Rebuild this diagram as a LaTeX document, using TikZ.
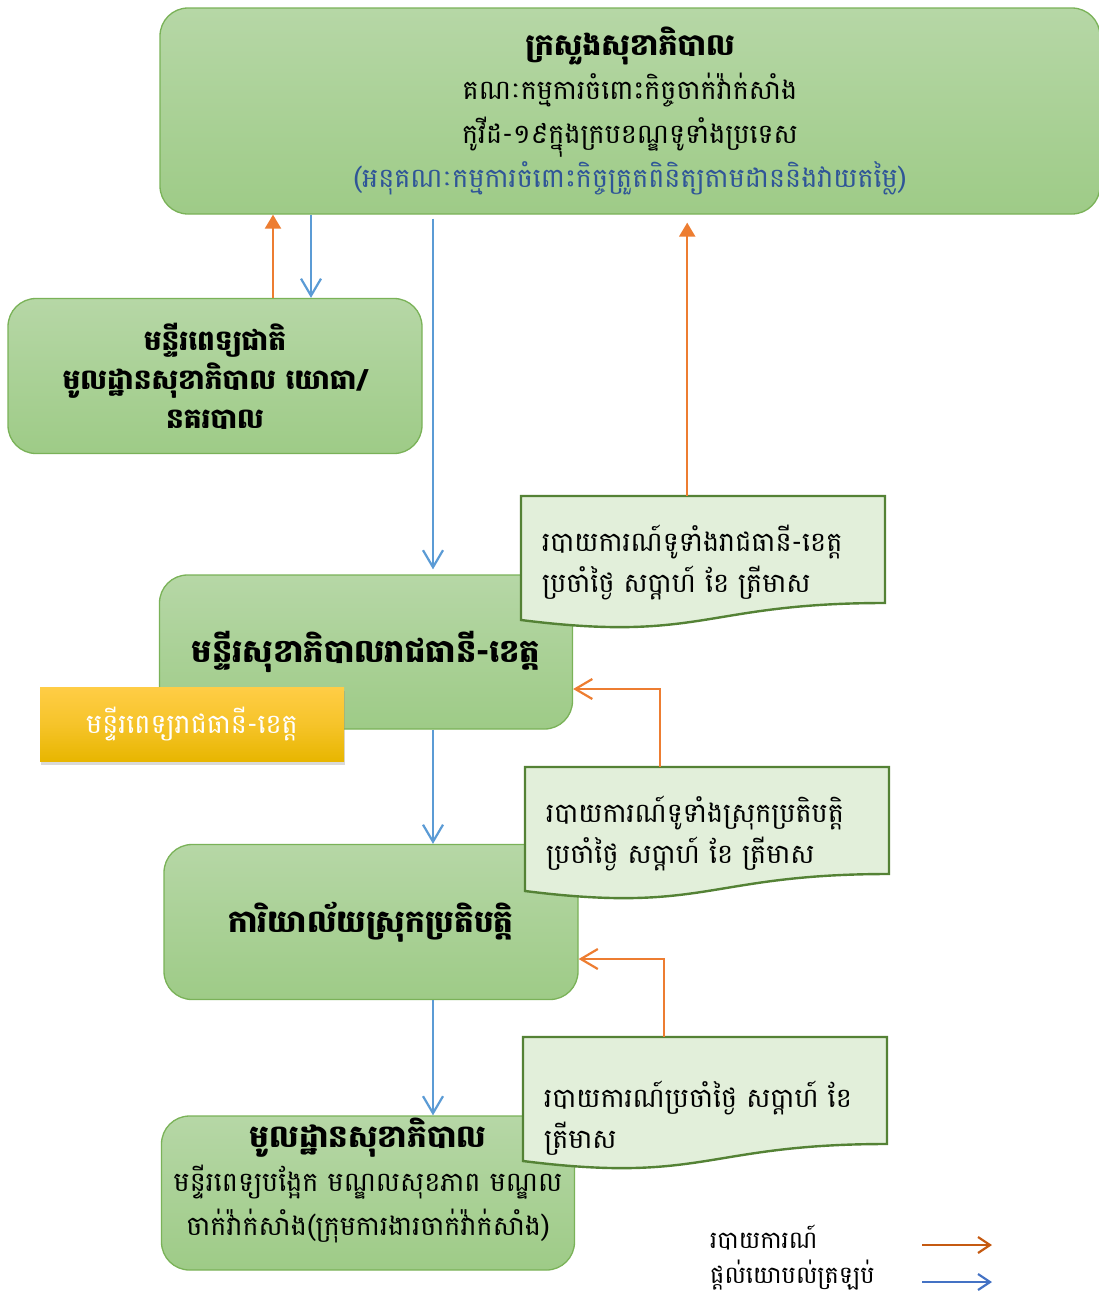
\documentclass[tikz,border=0pt]{standalone}
\usepackage{fontspec}
\setmainfont[Script=Khmer]{Battambang}
\usetikzlibrary{arrows.meta,shadows}

\definecolor{boxtop}{RGB}{182,215,166}
\definecolor{boxbot}{RGB}{158,203,135}
\definecolor{boxline}{RGB}{122,178,88}
\definecolor{docfill}{RGB}{226,239,218}
\definecolor{docline}{RGB}{84,130,53}
\definecolor{repcol}{RGB}{237,125,49}
\definecolor{backcol}{RGB}{91,155,213}
\definecolor{keyorange}{RGB}{197,90,17}
\definecolor{keyblue}{RGB}{68,114,196}
\definecolor{subblue}{RGB}{47,85,151}
\definecolor{goldtop}{RGB}{255,205,70}
\definecolor{goldbot}{RGB}{232,182,0}

\begin{document}
\begin{tikzpicture}[x=1pt, y=-1pt,
greenbox/.style={rectangle, rounded corners=28pt, draw=boxline, line width=1.3pt, top color=boxtop, bottom color=boxbot, align=center, inner sep=0pt, font=\fontsize{27}{44}\selectfont},
goldbox/.style={rectangle, top color=goldtop, bottom color=goldbot, middle color=goldtop!60!goldbot, text=white, inner sep=0pt, minimum width=304pt, minimum height=74pt, font=\fontsize{27}{30}\selectfont, drop shadow={shadow xshift=1pt, shadow yshift=-4pt, opacity=0.3}},
reptext/.style={rectangle, anchor=north west, minimum width=364pt, minimum height=133pt, text width=322pt, align=left, inner sep=0pt, font=\fontsize{27}{41}\selectfont},
keytext/.style={anchor=west, inner sep=0pt, font=\fontsize{24}{28}\selectfont},
report/.style={draw=repcol, line width=2.2pt, -{Straight Barb[length=17pt, width=20pt, line width=2.2pt]}},
reportup/.style={draw=repcol, line width=2.2pt, -{Triangle[length=14pt, width=16pt]}},
back/.style={draw=backcol, line width=2.2pt, -{Straight Barb[length=17pt, width=20pt, line width=2.2pt]}},
reportdoc/.pic={\path[fill=docfill, draw=docline, line width=2.4pt] (0,0) -- (364,0) -- (364,107) .. controls (182,107) and (182,147) .. (0,124) -- cycle;}
]
\useasboundingbox (0,0) rectangle (1099,1296);

\node (moh) [greenbox, minimum width=940pt, minimum height=206pt] at (630,111)
  {{\fontsize{30}{44}\selectfont\bfseries ក្រសួងសុខាភិបាល}\\
   គណៈកម្មការចំពោះកិច្ចចាក់វ៉ាក់សាំង\\
   កូវីដ-១៩ក្នុងក្របខណ្ឌទូទាំងប្រទេស\\
   \textcolor{subblue}{(អនុគណៈកម្មការចំពោះកិច្ចត្រួតពិនិត្យតាមដាននិងវាយតម្លៃ)}};
\node (nat) [greenbox, minimum width=414pt, minimum height=155pt, font=\fontsize{28}{39}\selectfont\bfseries] at (215,376)
  {មន្ទីរពេទ្យជាតិ\\ មូលដ្ឋានសុខាភិបាល យោធា/\\ នគរបាល};
\node (pro) [greenbox, minimum width=413pt, minimum height=154pt, font=\fontsize{32}{44}\selectfont\bfseries] at (366,652)
  {មន្ទីរសុខាភិបាលរាជធានី-ខេត្ត};
\node (hosp) [goldbox] at (192,724) {មន្ទីរពេទ្យរាជធានី-ខេត្ត};
\node (dist) [greenbox, minimum width=414pt, minimum height=155pt, font=\fontsize{31}{44}\selectfont\bfseries] at (371,922)
  {ការិយាល័យស្រុកប្រតិបត្តិ};
\node (base) [greenbox, minimum width=413pt, minimum height=154pt] at (368,1193)
  {{\fontsize{31}{44}\selectfont\bfseries មូលដ្ឋានសុខាភិបាល}\\
   មន្ទីរពេទ្យបង្អែក មណ្ឌលសុខភាព មណ្ឌល\\
   ចាក់វ៉ាក់សាំង(ក្រុមការងារចាក់វ៉ាក់សាំង)\\[-12pt]\mbox{}};

\pic at (521,496) {reportdoc};
\node (rep1) [reptext] at (521,496)
  {របាយការណ៍ទូទាំងរាជធានី-ខេត្ត\\ ប្រចាំថ្ងៃ សប្តាហ៍ ខែ ត្រីមាស};
\pic at (525,767) {reportdoc};
\node (rep2) [reptext] at (525,767)
  {របាយការណ៍ទូទាំងស្រុកប្រតិបត្តិ\\ ប្រចាំថ្ងៃ សប្តាហ៍ ខែ ត្រីមាស};
\pic at (523,1037) {reportdoc};
\node (rep3) [reptext, minimum height=163pt] at (523,1037)
  {របាយការណ៍ប្រចាំថ្ងៃ សប្តាហ៍ ខែ\\ ត្រីមាស};

\coordinate (spine) at (433,0);
\draw[reportup] ([xshift=58pt]nat.north) -- ([xshift=58pt]nat.north |- moh.south);
\draw[back] ([xshift=96pt]moh.south -| nat.north) -- ([xshift=96pt]nat.north);
\draw[back, shorten <=4pt, shorten >=5pt] (moh.south -| spine) -- (pro.north -| spine);
\draw[reportup, shorten >=8pt] ([xshift=-16pt]rep1.north) -- ([xshift=-16pt]rep1.north |- moh.south);
\draw[report] ([xshift=-47pt]rep2.north) |- ([yshift=-37pt]pro.east);
\draw[back] (pro.south -| spine) -- (dist.north -| spine);
\draw[report] ([xshift=-41pt]rep3.north) |- ([yshift=-37pt]dist.east);
\draw[back] (dist.south -| spine) -- (base.north -| spine);

\node (key1) [keytext] at (710,1238) {របាយការណ៍};
\node (key2) [keytext] at (710,1275) {ផ្តល់យោបល់ត្រឡប់};
\coordinate (k1a) at (922,1245);
\coordinate (k1b) at (992,1245);
\coordinate (k2a) at (922,1282);
\coordinate (k2b) at (992,1282);
\draw[draw=keyorange, line width=2.2pt, -{Straight Barb[length=12pt, width=16pt, line width=2.2pt]}] (k1a) -- (k1b);
\draw[draw=keyblue, line width=2.2pt, -{Straight Barb[length=12pt, width=16pt, line width=2.2pt]}] (k2a) -- (k2b);
\end{tikzpicture}
\end{document}
